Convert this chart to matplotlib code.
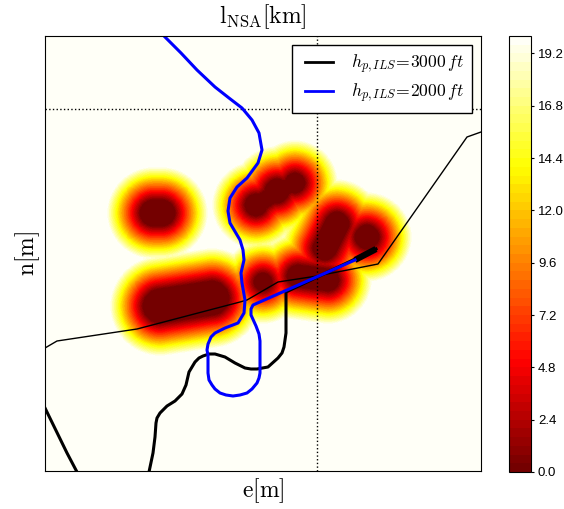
import numpy as np
import matplotlib
matplotlib.use('Agg')
import matplotlib.pyplot as plt

plt.rcParams['mathtext.fontset'] = 'cm'
plt.rcParams['font.family'] = ['Liberation Sans', 'DejaVu Sans']

xlim = (45, 481)
ylim = (471, 36)

path_2000_x = [165, 181, 197, 215, 229, 242, 252, 259, 262, 258, 247, 237, 230, 228, 230, 240, 243, 244, 241, 242, 245, 244, 238, 225, 215, 211, 208, 207, 208, 208, 209, 212, 215, 220, 226, 233, 240, 247, 252, 257, 259, 260, 260, 259, 256, 251, 251, 253, 355]
path_2000_y = [37, 53, 70, 87, 98, 108, 120, 133, 150, 163, 178, 187, 198, 211, 223, 240, 250, 260, 273, 283, 300, 313, 323, 328, 333, 337, 344, 350, 355, 373, 380, 385, 389, 393, 395, 396, 395, 393, 389, 383, 378, 373, 341, 334, 326, 315, 309, 305, 260]

path_3000_x = [149, 153, 155, 156, 157, 160, 167, 175, 182, 186, 189, 195, 199, 203, 209, 215, 225, 235, 245, 251, 257, 268, 278, 282, 284, 286, 286, 286, 376]
path_3000_y = [472, 453, 437, 423, 418, 413, 406, 401, 394, 385, 372, 362, 358, 356, 354, 354, 357, 363, 368, 369, 369, 367, 358, 353, 347, 333, 320, 292, 249]
path_3000b_x = [45, 67, 77]
path_3000b_y = [408, 453, 472]
path_end_x = [355, 376]
path_end_y = [260, 249]

road_x = [45, 57, 137, 240, 247, 278, 317, 378, 467, 481]
road_y = [348, 341, 329, 302, 300, 282, 276, 264, 137, 132]

cross_x = 317
cross_y = 109

# threat cores: two ends of a segment and the core radius
core_x0 = [153, 257, 277, 256, 277, 295, 325, 367, 160, 263, 298]
core_y0 = [213, 205, 192, 205, 191, 183, 248, 237, 306, 282, 276]
core_x1 = [162, 277, 295, 256, 277, 295, 337, 367, 212, 263, 328]
core_y1 = [213, 192, 183, 205, 191, 183, 224, 237, 298, 282, 280]
core_r = [13, 8, 7, 11, 12, 10, 12, 12, 17, 9, 11]

fade_px = 34.0
cbar_ticks = [0.0, 2.4, 4.8, 7.2, 9.6, 12.0, 14.4, 16.8, 19.2]

xx, yy = np.meshgrid(np.arange(xlim[0], xlim[1] + 1), np.arange(ylim[1], ylim[0] + 1))
dist = np.full(xx.shape, 1e9)
for i in range(len(core_r)):
    dx = core_x1[i] - core_x0[i]
    dy = core_y1[i] - core_y0[i]
    l2 = max(dx * dx + dy * dy, 1)
    t = np.clip(((xx - core_x0[i]) * dx + (yy - core_y0[i]) * dy) / l2, 0, 1)
    d = np.hypot(xx - core_x0[i] - t * dx, yy - core_y0[i] - t * dy) - core_r[i]
    dist = np.minimum(dist, d)
field = np.clip(dist / fade_px * 20.0, 0, 19.99)

fig = plt.figure(figsize=(5.64, 5.09), dpi=100)
ax = fig.add_axes([45 / 564, 38 / 509, 436 / 564, 435 / 509])
cax = fig.add_axes([509 / 564, 37 / 509, 22 / 564, 436 / 509])

levels = np.arange(0, 20.01, 0.4)
cs = ax.contourf(xx, yy, field, levels=levels, cmap='hot', vmin=-3.5, vmax=20)

ax.axvline(cross_x, color='k', ls=':', lw=1)
ax.axhline(cross_y, color='k', ls=':', lw=1)
ax.plot(road_x, road_y, 'k-', lw=1)
ax.plot(path_3000_x, path_3000_y, 'k-', lw=2.2, label=r'$h_{p,ILS}\!=\!3000\,ft$')
ax.plot(path_3000b_x, path_3000b_y, 'k-', lw=2.2)
ax.plot(path_end_x, path_end_y, 'k-', lw=4.5, solid_capstyle='butt')
ax.plot(path_2000_x, path_2000_y, '-', color='#0000ff', lw=2.2, label=r'$h_{p,ILS}\!=\!2000\,ft$')

ax.set_xlim(xlim)
ax.set_ylim(ylim)
ax.set_xticks([])
ax.set_yticks([])
ax.set_title(r'$\mathrm{l_{NSA}[km]}$', fontsize=17, pad=9)
ax.set_xlabel(r'$\mathrm{e[m]}$', fontsize=17, labelpad=4)
ax.set_ylabel(r'$\mathrm{n[m]}$', fontsize=17, labelpad=2)

leg = ax.legend(loc='upper right', bbox_to_anchor=(427 / 436, 1 - 9 / 435), borderaxespad=0,
                fontsize=12.7, fancybox=False, framealpha=1, edgecolor='k',
                handlelength=1.85, handletextpad=1.0, labelspacing=0.32, borderpad=0.45)
leg.get_frame().set_linewidth(1)
for line in leg.get_lines():
    line.set_linewidth(2)
    xd = line.get_xdata()
    line.set_xdata(np.linspace(xd[0] + 3.4, xd[-1], len(xd)))

cb = fig.colorbar(cs, cax=cax, ticks=cbar_ticks)
cb.ax.set_yticklabels(['%.1f' % t for t in cbar_ticks])
cb.ax.tick_params(labelsize=9.5, length=2, width=0.8, pad=3)

fig.savefig('out.png', dpi=100)
